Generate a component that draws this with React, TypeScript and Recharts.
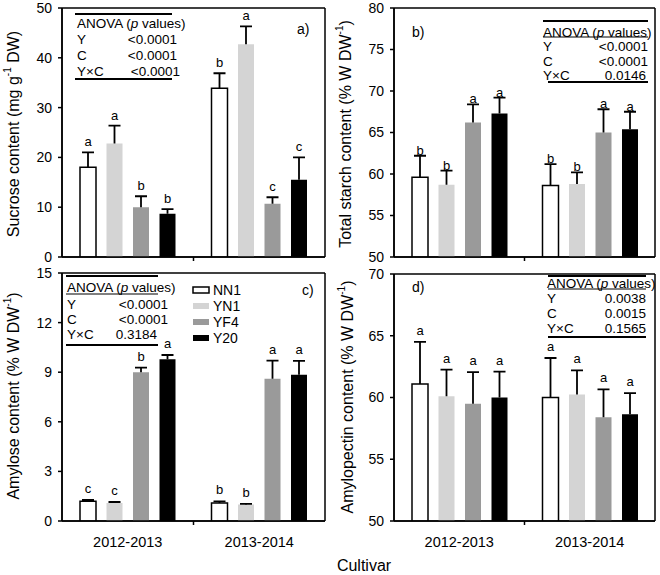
import { BarChart, Bar, XAxis, YAxis, CartesianGrid, LabelList } from 'recharts';

const years = ['2012-2013', '2013-2014'];
const cultivars = ['NN1', 'YN1', 'YF4', 'Y20'];
const cultivarFill = ['#ffffff', '#d4d4d4', '#9a9a9a', '#000000'];

// rows = years, columns = cultivars
const sucroseMean = [[18.0, 22.8, 10.0, 8.7], [33.9, 42.7, 10.7, 15.5]];
const sucroseErr = [[3.0, 3.6, 2.2, 0.9], [3.0, 3.6, 1.3, 4.5]];
const sucroseLetters = [['a', 'a', 'b', 'b'], ['b', 'a', 'c', 'c']];

const starchMean = [[59.6, 58.7, 66.2, 67.3], [58.6, 58.8, 65.0, 65.4]];
const starchErr = [[2.6, 1.7, 2.2, 1.9], [2.6, 1.4, 2.8, 2.1]];
const starchLetters = [['b', 'b', 'a', 'a'], ['b', 'b', 'a', 'a']];

const amyloseMean = [[1.2, 1.09, 9.0, 9.78], [1.09, 1.0, 8.6, 8.85]];
const amyloseErr = [[0.07, 0.06, 0.28, 0.26], [0.1, 0.04, 1.1, 0.83]];
const amyloseLetters = [['c', 'c', 'b', 'a'], ['b', 'b', 'a', 'a']];

const pectinMean = [[61.1, 60.1, 59.5, 60.0], [60.0, 60.25, 58.4, 58.65]];
const pectinErr = [[3.4, 2.15, 2.55, 2.1], [3.2, 1.95, 2.25, 1.7]];
const pectinLetters = [['a', 'a', 'a', 'a'], ['a', 'a', 'a', 'a']];

const sucroseTicks = [0, 10, 20, 30, 40, 50];
const starchTicks = [50, 55, 60, 65, 70, 75, 80];
const amyloseTicks = [0, 3, 6, 9, 12, 15];
const pectinTicks = [50, 55, 60, 65, 70];

const anovaLabels = ['Y', 'C', 'Y×C'];
const anovaSucrose = ['<0.0001', '<0.0001', '<0.0001'];
const anovaStarch = ['<0.0001', '<0.0001', '0.0146'];
const anovaAmylose = ['<0.0001', '<0.0001', '0.3184'];
const anovaPectin = ['0.0038', '0.0015', '0.1565'];

const FONT = '"Liberation Sans", Arial, sans-serif';

const buildRows = (mean: number[][], err: number[][], letters: string[][]) =>
  years.map((year, i) => {
    const row: Record<string, string | number> = { year };
    cultivars.forEach((_, j) => {
      row[`m${j}`] = mean[i][j];
      row[`e${j}`] = err[i][j];
      row[`l${j}`] = letters[i][j];
    });
    return row;
  });

// one-sided error bar drawn on the stacked error segment
const ErrShape = (p: any) => {
  const { x, y, width, height } = p;
  if (x == null || y == null) return <g />;
  const cx = x + width / 2;
  return (
    <g>
      <line x1={cx} x2={cx} y1={y + height} y2={y} stroke="#000" strokeWidth={1.8} />
      <line x1={cx - 6} x2={cx + 6} y1={y} y2={y} stroke="#000" strokeWidth={1.8} />
    </g>
  );
};

interface PanelProps {
  left: number;
  top: number;
  height: number;
  yAxisWidth: number;
  xAxisHeight: number;
  marginBottom: number;
  domain: [number, number];
  ticks: number[];
  rows: Record<string, string | number>[];
  letterOffset: number;
  showYears: boolean;
}

const Panel = ({ left, top, height, yAxisWidth, xAxisHeight, marginBottom, domain, ticks, rows, letterOffset, showYears }: PanelProps) => {
  const width = 330;
  const band = (width - 5 - yAxisWidth) / 2;

  const renderTick = (p: any) => {
    const axisY = p.y - 16;
    return (
      <g>
        {p.index === 0 && (
          <line x1={p.x + band / 2} x2={p.x + band / 2} y1={axisY} y2={axisY + 4} stroke="#000" strokeWidth={1.5} />
        )}
        {showYears && (
          <text x={p.x} y={axisY + 21} textAnchor="middle" dominantBaseline="central" fontSize={14.5} fill="#000">
            {p.payload.value}
          </text>
        )}
      </g>
    );
  };

  return (
    <div style={{ position: 'absolute', left, top }}>
      <BarChart
        width={width}
        height={height}
        data={rows}
        margin={{ top: 8, right: 5, left: 0, bottom: marginBottom }}
        barSize={16}
        barGap={10.5}
      >
        <CartesianGrid
          stroke="#000"
          strokeWidth={1.5}
          horizontalCoordinatesGenerator={(g: any) => (g && g.offset ? [g.offset.top, g.offset.top + g.offset.height] : [])}
          verticalCoordinatesGenerator={(g: any) => (g && g.offset ? [g.offset.left, g.offset.left + g.offset.width] : [])}
        />
        <XAxis
          dataKey="year"
          height={xAxisHeight}
          interval={0}
          tickSize={0}
          tickMargin={16}
          tickLine={false}
          axisLine={{ stroke: '#000', strokeWidth: 1.5 }}
          tick={renderTick}
        />
        <YAxis
          type="number"
          domain={domain}
          ticks={ticks}
          interval={0}
          allowDataOverflow
          width={yAxisWidth}
          tickSize={4}
          tickMargin={6}
          tick={{ fontSize: 14, fill: '#000' }}
          tickLine={{ stroke: '#000', strokeWidth: 1.5 }}
          axisLine={{ stroke: '#000', strokeWidth: 1.5 }}
        />
        {cultivars.flatMap((c, j) => [
          <Bar
            key={`m${j}`}
            dataKey={`m${j}`}
            stackId={c}
            fill={cultivarFill[j]}
            stroke={j === 0 ? '#000' : 'none'}
            strokeWidth={1.5}
            isAnimationActive={false}
          />,
          <Bar key={`e${j}`} dataKey={`e${j}`} stackId={c} fill="none" shape={ErrShape} isAnimationActive={false}>
            <LabelList dataKey={`l${j}`} position="top" offset={letterOffset} fontSize={13} fill="#000" />
          </Bar>,
        ])}
      </BarChart>
    </div>
  );
};

interface AnovaProps {
  values: string[];
  x1: number;
  x2: number;
  textX: number;
  valXs: number[];
  top: number;
  head: number;
  under: number | null;
  rowsY: number[];
  bottom: number;
  bottomX1: number;
}

const AnovaTable = ({ values, x1, x2, textX, valXs, top, head, under, rowsY, bottom, bottomX1 }: AnovaProps) => (
  <g fontSize={13.5} fill="#000">
    <line x1={x1} x2={x2} y1={top} y2={top} stroke="#000" strokeWidth={1.8} />
    <text x={textX} y={head} dominantBaseline="central">
      ANOVA (<tspan fontStyle="italic">p</tspan> values)
    </text>
    {under != null && <line x1={x1} x2={x2} y1={under} y2={under} stroke="#000" strokeWidth={1.2} />}
    {anovaLabels.map((lab, i) => (
      <g key={lab}>
        <text x={textX} y={rowsY[i]} dominantBaseline="central">{lab}</text>
        <text x={valXs[i]} y={rowsY[i]} dominantBaseline="central" textAnchor="end">{values[i]}</text>
      </g>
    ))}
    <line x1={bottomX1} x2={x2} y1={bottom} y2={bottom} stroke="#000" strokeWidth={1.8} />
  </g>
);

const YTitle = ({ x, y, main }: { x: number; y: number; main: string; }) => (
  <text
    x={x}
    y={y}
    transform={`rotate(-90, ${x}, ${y})`}
    textAnchor="middle"
    dominantBaseline="central"
    fontSize={16}
    fill="#000"
  >
    {main}
    <tspan fontSize={10} dy={-6}>-1</tspan>
    <tspan dy={6}>{main.startsWith('Sucrose') ? ' DW)' : ')'}</tspan>
  </text>
);

export default function App() {
  const sucroseRows = buildRows(sucroseMean, sucroseErr, sucroseLetters);
  const starchRows = buildRows(starchMean, starchErr, starchLetters);
  const amyloseRows = buildRows(amyloseMean, amyloseErr, amyloseLetters);
  const pectinRows = buildRows(pectinMean, pectinErr, pectinLetters);

  return (
    <div style={{ position: 'absolute', left: 0, top: 0, width: 660, height: 575, background: '#fff', fontFamily: FONT }}>
      <Panel left={0} top={0} height={272} yAxisWidth={62} xAxisHeight={15} marginBottom={0}
        domain={[0, 50]} ticks={sucroseTicks} rows={sucroseRows} letterOffset={6} showYears={false} />
      <Panel left={330} top={0} height={272} yAxisWidth={64} xAxisHeight={15} marginBottom={0}
        domain={[50, 80]} ticks={starchTicks} rows={starchRows} letterOffset={1} showYears={false} />
      <Panel left={0} top={265} height={310} yAxisWidth={62} xAxisHeight={30} marginBottom={24}
        domain={[0, 15]} ticks={amyloseTicks} rows={amyloseRows} letterOffset={7} showYears />
      <Panel left={330} top={266} height={309} yAxisWidth={64} xAxisHeight={30} marginBottom={24}
        domain={[50, 70]} ticks={pectinTicks} rows={pectinRows} letterOffset={7} showYears />

      <svg width={660} height={575} style={{ position: 'absolute', left: 0, top: 0, pointerEvents: 'none', fontFamily: FONT }}>
        <YTitle x={13} y={134} main="Sucrose content (mg g" />
        <YTitle x={345} y={134} main="Total starch content (% W DW" />
        <YTitle x={13} y={396} main="Amylose content (% W DW" />
        <YTitle x={347} y={397} main="Amylopectin content (% W DW" />

        <AnovaTable values={anovaSucrose} x1={75} x2={172} textX={77} valXs={[177, 177, 180]}
          top={14} head={23} under={null} rowsY={[39, 55, 71]} bottom={79} bottomX1={75} />
        <AnovaTable values={anovaStarch} x1={543} x2={648} textX={543} valXs={[648, 648, 646]}
          top={21} head={32} under={37} rowsY={[46, 61, 75]} bottom={82} bottomX1={548} />
        <AnovaTable values={anovaAmylose} x1={66} x2={158} textX={67} valXs={[168, 168, 157]}
          top={276} head={287} under={294} rowsY={[304, 319, 334]} bottom={345} bottomX1={66} />
        <AnovaTable values={anovaPectin} x1={548} x2={646} textX={547} valXs={[646, 646, 646]}
          top={276} head={283} under={289} rowsY={[298, 313, 328]} bottom={337} bottomX1={548} />

        <text x={297} y={29} fontSize={14} dominantBaseline="central">a)</text>
        <text x={412} y={32} fontSize={14} dominantBaseline="central">b)</text>
        <text x={302} y={290} fontSize={14} dominantBaseline="central">c)</text>
        <text x={412} y={287} fontSize={14} dominantBaseline="central">d)</text>

        {cultivars.map((c, j) => (
          <g key={c}>
            <rect x={193} y={287 + j * 16} width={16} height={6} fill={cultivarFill[j]}
              stroke={j === 0 ? '#000' : 'none'} strokeWidth={1.5} />
            <text x={213} y={290 + j * 16} fontSize={14} dominantBaseline="central">{c}</text>
          </g>
        ))}

        <text x={364} y={565} fontSize={16} textAnchor="middle" dominantBaseline="central">Cultivar</text>
      </svg>
    </div>
  );
}
